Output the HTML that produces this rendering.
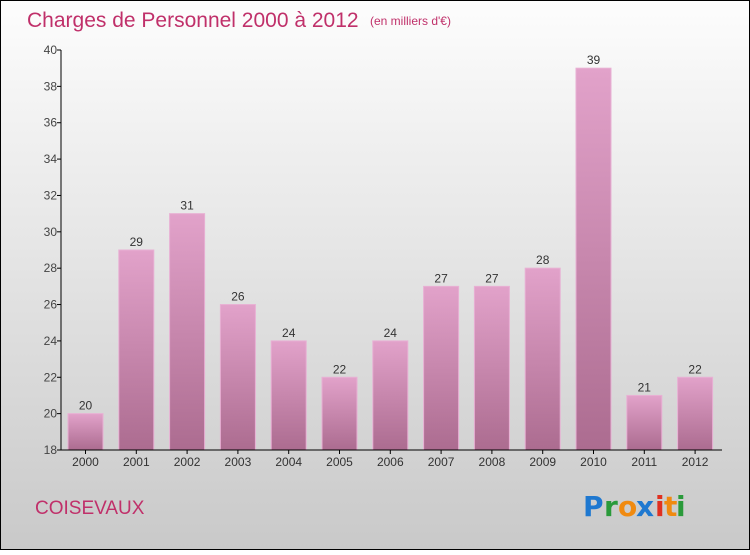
<!DOCTYPE html>
<html><head><meta charset="utf-8"><style>
html,body{margin:0;padding:0}
body{width:750px;height:550px;overflow:hidden;font-family:"Liberation Sans",sans-serif}
</style></head><body>
<svg width="750" height="550" xmlns="http://www.w3.org/2000/svg">
<defs>
<linearGradient id="bg" x1="0" y1="0" x2="0" y2="1"><stop offset="0" stop-color="#fdfdfd"/><stop offset="1" stop-color="#c9c9c9"/></linearGradient>
<linearGradient id="bar" x1="0" y1="0" x2="0" y2="1"><stop offset="0" stop-color="#e2a2ca"/><stop offset="1" stop-color="#ac6c90"/></linearGradient>
</defs>
<rect x="0.5" y="0.5" width="749" height="549" fill="url(#bg)" stroke="#000"/>
<text x="27" y="27" font-size="21" fill="#c0306a">Charges de Personnel 2000 à 2012</text>
<text x="370" y="25" font-size="12" fill="#c0306a">(en milliers d'€)</text>
<g id="plot"></g>
<text x="35" y="514" font-size="19" fill="#c0306a">COISEVAUX</text>
<g font-size="28" font-family="'DejaVu Sans',sans-serif" font-weight="bold">
<text x="583" y="516" fill="#1e78d0">P</text><text x="604" y="516" fill="#2a9a3a">r</text><text x="618" y="516" fill="#f08a10">o</text><text x="636" y="516" fill="#1e78d0">x</text><text x="655" y="516" fill="#e03020">i</text><text x="664" y="516" fill="#f08a10">t</text><text x="676" y="516" fill="#2a9a3a">i</text>
</g>
</svg>
<script>
const categories=["2000","2001","2002","2003","2004","2005","2006","2007","2008","2009","2010","2011","2012"];
const values=[20,29,31,26,24,22,24,27,27,28,39,21,22];
const yTicks=[18,20,22,24,26,28,30,32,34,36,38,40];
const NS="http://www.w3.org/2000/svg";
const g=document.getElementById('plot');
const x0=61,yBase=450,yTop=50,yMin=18,yMax=40;
const y=v=>yBase-(v-yMin)/(yMax-yMin)*(yBase-yTop);
const step=50.8,first=85.5,bw=35;
const cx=i=>first+i*step;
function mk(t,a){const e=document.createElementNS(NS,t);for(const k in a)e.setAttribute(k,a[k]);g.appendChild(e);return e;}
yTicks.forEach(t=>{
 const l=mk('line',{x1:x0-4,x2:x0,y1:y(t),y2:y(t),stroke:'#000'});
 
 
 const tx=mk('text',{x:x0-4,y:y(t)+4,'text-anchor':'end','font-size':12,fill:'#444'});
 tx.textContent=t;
 
 
});
values.forEach((v,i)=>{
 const r=mk('rect',{x:cx(i)-bw/2,y:y(v),width:bw,height:yBase-y(v),fill:'url(#bar)',stroke:'#e8b0d4','stroke-width':1});
 
 
 const t=mk('text',{x:cx(i),y:y(v)-4,'text-anchor':'middle','font-size':12,fill:'#333'});
 t.textContent=v;
 
 
 const tk=mk('line',{x1:cx(i),x2:cx(i),y1:yBase,y2:yBase+4,stroke:'#000'});
 
 
 const c=mk('text',{x:cx(i),y:yBase+16,'text-anchor':'middle','font-size':12,fill:'#333'});
 c.textContent=categories[i];
 
 
});
const ya=mk('line',{x1:x0,x2:x0,y1:yTop,y2:yBase,stroke:'#000'});


const xa=mk('line',{x1:x0,x2:722,y1:yBase,y2:yBase,stroke:'#000'});


</script>
</body></html>
